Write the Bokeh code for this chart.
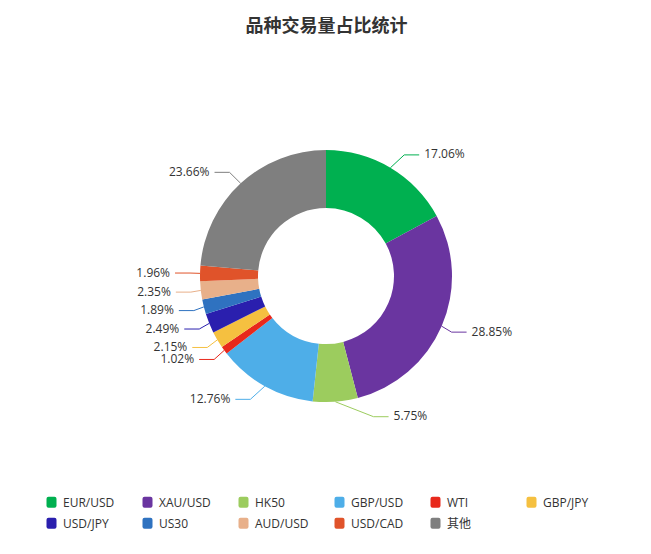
import math
from bokeh.plotting import figure
from bokeh.models import ColumnDataSource, Range1d
from bokeh.core.properties import value
from bokeh.embed import file_html
from bokeh.resources import INLINE

# ---------------- data ----------------
title_text = "品种交易量占比统计"
categories = ["EUR/USD", "XAU/USD", "HK50", "GBP/USD", "WTI", "GBP/JPY",
              "USD/JPY", "US30", "AUD/USD", "USD/CAD", "其他"]
shares = [17.06, 28.85, 5.75, 12.76, 1.02, 2.15, 2.49, 1.89, 2.35, 1.96, 23.66]
colors = ["#00b050", "#6a35a0", "#9ccc5e", "#4eaee8", "#e8291c", "#f5c040",
          "#2a1fae", "#2f72c0", "#e8b08a", "#e0532a", "#7f7f7f"]

# ---------------- layout (screen pixels, y down) ----------------
W, H = 635, 538
def X(px):
    return px
def Y(py):
    return H - py

CX, CY = 325.5, 275.6
R_OUT, R_IN = 126, 68
LEN1, LEN2, GAP = 15, 15, 5
LABEL_H = 12
FONT = "'Open Sans', 'Noto Sans CJK SC', sans-serif"
TXT = "#333333"

p = figure(width=W, height=H, output_backend="svg", toolbar_location=None,
           x_range=Range1d(0, W), y_range=Range1d(0, H),
           x_axis_type=None, y_axis_type=None, min_border=0,
           background_fill_color="white", border_fill_color="white")
p.outline_line_color = None
p.grid.visible = False

# ---------------- donut ----------------
total = sum(shares)
starts, ends = [], []
acc = 0.0
for v in shares:
    starts.append(acc / total)
    acc += v
    ends.append(acc / total)

src = ColumnDataSource(dict(
    start=[math.pi / 2 - 2 * math.pi * s for s in starts],
    end=[math.pi / 2 - 2 * math.pi * e for e in ends],
    color=colors, name=categories))
p.annular_wedge(x=X(CX), y=Y(CY), inner_radius=R_IN, outer_radius=R_OUT,
                start_angle="start", end_angle="end", direction="clock",
                fill_color="color", line_color=None, source=src)

# ---------------- outside labels (echarts-like layout) ----------------
labels = []
for i, v in enumerate(shares):
    mid = (starts[i] + ends[i]) / 2 * 2 * math.pi
    dx, dy = math.sin(mid), -math.cos(mid)
    side = -1 if dx < 0 else 1
    x1, y1 = CX + R_OUT * dx, CY + R_OUT * dy
    x2, y2 = CX + (R_OUT + LEN1) * dx, CY + (R_OUT + LEN1) * dy
    tx = x2 + side * LEN2 + side * GAP
    labels.append(dict(i=i, x1=x1, y1=y1, tx=tx, ty=y2, side=side,
                       text="%.2f%%" % v))

def change_x(lst, is_down, side):
    last = float("inf") if is_down else 0.0
    rr = R_OUT + LEN1
    for l in lst:
        dyy = abs(l["ty"] - CY)
        if dyy < rr:
            ddx = math.sqrt((rr + LEN2) ** 2 - dyy ** 2)
        else:
            ddx = abs(l["tx"] - CX)
        if is_down and ddx >= last:
            ddx = last - 10
        if (not is_down) and ddx <= last:
            ddx = last + 10
        l["tx"] = CX + ddx * side
        last = ddx

for side in (-1, 1):
    lst = sorted([l for l in labels if l["side"] == side], key=lambda l: l["ty"])
    last = -1e9
    for l in lst:
        if l["ty"] - last < LABEL_H:
            l["ty"] = last + LABEL_H
        last = l["ty"]
    change_x([l for l in lst if l["ty"] < CY], False, side)
    change_x([l for l in lst if l["ty"] >= CY], True, side)

xs, ys, lc = [], [], []
for l in labels:
    end_x = l["tx"] - l["side"] * GAP
    elb_x = end_x - l["side"] * LEN2
    xs.append([X(l["x1"]), X(elb_x), X(end_x)])
    ys.append([Y(l["y1"]), Y(l["ty"]), Y(l["ty"])])
    lc.append(colors[l["i"]])
p.multi_line(xs=xs, ys=ys, line_color=lc, line_width=1)

for side, align in ((-1, "right"), (1, "left")):
    sub = [l for l in labels if l["side"] == side]
    p.text(x=[X(l["tx"]) for l in sub], y=[Y(l["ty"]) + 1.0 for l in sub],
           text=[l["text"] for l in sub], text_align=align,
           text_baseline="middle", text_font=value(FONT),
           text_font_size="12px", text_color=TXT)

# ---------------- title ----------------
p.text(x=[X(326)], y=[Y(23)], text=[title_text], text_align="center",
       text_baseline="middle", text_font=value("'Noto Sans CJK SC', sans-serif"),
       text_font_size="18px", text_font_style="bold", text_color=TXT)

# ---------------- legend ----------------
PER_ROW = 6
COL_W = 96
ROW_H = 21
LEG_X0, LEG_Y0 = 51, 501.8
lx, ly, tx_, ty_ = [], [], [], []
for i, name in enumerate(categories):
    r, c = divmod(i, PER_ROW)
    lx.append(X(LEG_X0 + COL_W * c))
    ly.append(Y(LEG_Y0 + ROW_H * r))
    tx_.append(X(LEG_X0 + COL_W * c + 11.5))
    ty_.append(Y(LEG_Y0 + ROW_H * r))
p.rect(x=lx, y=ly, width=10, height=11, fill_color=colors, line_color=None,
       border_radius=2)
p.text(x=tx_, y=ty_, text=categories, text_align="left", text_baseline="middle",
       text_font=value(FONT), text_font_size="12px", text_color=TXT)

open("out.html", "w").write(file_html(p, INLINE))
